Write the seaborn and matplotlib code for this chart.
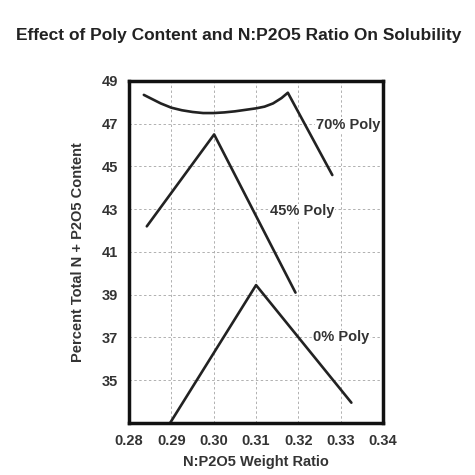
import numpy as np
import pandas as pd
import seaborn as sns
import matplotlib.pyplot as plt

# Values
poly70_x = [0.2835, 0.2855, 0.2875, 0.290, 0.2925, 0.295, 0.2975, 0.300, 0.3025, 0.305,
            0.3075, 0.310, 0.312, 0.314, 0.316, 0.3175, 0.328]
poly70_y = [48.35, 48.15, 47.95, 47.75, 47.63, 47.55, 47.5, 47.5, 47.53, 47.58,
            47.65, 47.72, 47.8, 47.95, 48.2, 48.45, 44.6]
poly45_x = [0.2842, 0.3001, 0.3193]
poly45_y = [42.2, 46.5, 39.1]
poly0_x = [0.2897, 0.3100, 0.3325]
poly0_y = [33.0, 39.45, 33.95]

series_labels = ["70% Poly", "45% Poly", "0% Poly"]
label_pos_x = [0.3318, 0.3209, 0.3300]
label_pos_y = [46.95, 42.9, 37.0]

x_ticks = [0.28, 0.29, 0.30, 0.31, 0.32, 0.33, 0.34]
y_ticks = [35, 37, 39, 41, 43, 45, 47, 49]

df = pd.concat([
    pd.DataFrame({"ratio": poly70_x, "content": poly70_y, "series": "70% Poly"}),
    pd.DataFrame({"ratio": poly45_x, "content": poly45_y, "series": "45% Poly"}),
    pd.DataFrame({"ratio": poly0_x, "content": poly0_y, "series": "0% Poly"}),
], ignore_index=True)

sns.set_theme(style="white")
plt.rcParams['font.family'] = ['Liberation Sans', 'DejaVu Sans']

fig = plt.figure(figsize=(4.75, 4.75), dpi=100)
ax = fig.add_axes([0.2716, 0.1095, 0.535, 0.72])

for name in series_labels:
    part = df[df["series"] == name]
    sns.lineplot(data=part, x="ratio", y="content", ax=ax, color="#222222",
                 linewidth=1.9, sort=False, estimator=None, legend=False)

for name, lx, ly in zip(series_labels, label_pos_x, label_pos_y):
    ax.text(lx, ly, name, ha="center", va="center", fontsize=10.5, fontweight="bold",
            color="#333333", bbox=dict(facecolor="white", edgecolor="none", pad=0.5))

ax.set_xlim(0.28, 0.34)
ax.set_ylim(33, 49)
ax.set_xticks(x_ticks)
ax.set_xticklabels([f"{t:.2f}" for t in x_ticks])
ax.set_yticks(y_ticks)
ax.grid(True, linestyle=(0, (2.5, 2.5)), color="#b0b0b0", linewidth=0.7)
ax.tick_params(axis="both", length=0, pad=8, labelsize=10.5, labelcolor="#333333")
for lbl in ax.get_xticklabels() + ax.get_yticklabels():
    lbl.set_fontweight("bold")
for spine in ax.spines.values():
    spine.set_linewidth(2.5)
    spine.set_color("#111111")

ax.set_xlabel("N:P2O5 Weight Ratio", fontsize=10.5, fontweight="bold", color="#333333", labelpad=5)
ax.set_ylabel("Percent Total N + P2O5 Content", fontsize=10.5, fontweight="bold", color="#333333", labelpad=12)
fig.text(0.503, 0.926, "Effect of Poly Content and N:P2O5 Ratio On Solubility",
         ha="center", va="center", fontsize=12.5, fontweight="bold", color="#222222")

fig.savefig("out.png", dpi=100)
